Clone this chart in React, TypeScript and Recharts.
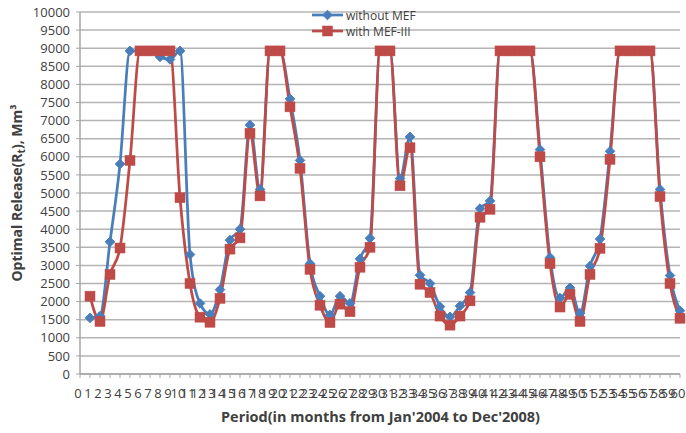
import React from 'react';
import { LineChart, Line, XAxis, YAxis, CartesianGrid } from 'recharts';

const periods = [
  1, 2, 3, 4, 5, 6, 7, 8, 9, 10, 11, 12, 13, 14, 15, 16, 17, 18, 19, 20,
  21, 22, 23, 24, 25, 26, 27, 28, 29, 30, 31, 32, 33, 34, 35, 36, 37, 38, 39, 40,
  41, 42, 43, 44, 45, 46, 47, 48, 49, 50, 51, 52, 53, 54, 55, 56, 57, 58, 59, 60,
];

const withoutMEF = [
  1550, 1600, 3650, 5800, 8925, 8925, 8925, 8760, 8690, 8925,
  3300, 1950, 1650, 2330, 3700, 4000, 6880, 5100, 8925, 8925,
  7600, 5900, 3050, 2150, 1630, 2150, 1950, 3180, 3750, 8925,
  8925, 5400, 6550, 2730, 2500, 1860, 1580, 1880, 2250, 4570,
  4780, 8925, 8925, 8925, 8925, 6200, 3220, 2100, 2380, 1680,
  2980, 3730, 6150, 8925, 8925, 8925, 8925, 5100, 2720, 1750,
];

const withMEF3 = [
  2150, 1450, 2750, 3480, 5900, 8925, 8925, 8925, 8925, 4870,
  2500, 1570, 1430, 2090, 3450, 3760, 6650, 4920, 8925, 8925,
  7380, 5680, 2890, 1900, 1420, 1930, 1720, 2950, 3500, 8925,
  8925, 5200, 6250, 2480, 2250, 1600, 1350, 1600, 2020, 4330,
  4550, 8925, 8925, 8925, 8925, 6000, 3050, 1850, 2200, 1450,
  2750, 3470, 5930, 8925, 8925, 8925, 8925, 4900, 2500, 1540,
];

const xTicks = [
  0, 1, 2, 3, 4, 5, 6, 7, 8, 9, 10, 11, 12, 13, 14, 15, 16, 17, 18, 19, 20,
  21, 22, 23, 24, 25, 26, 27, 28, 29, 30, 31, 32, 33, 34, 35, 36, 37, 38, 39, 40,
  41, 42, 43, 44, 45, 46, 47, 48, 49, 50, 51, 52, 53, 54, 55, 56, 57, 58, 59, 60,
];

const yTicks = [
  0, 500, 1000, 1500, 2000, 2500, 3000, 3500, 4000, 4500, 5000,
  5500, 6000, 6500, 7000, 7500, 8000, 8500, 9000, 9500, 10000,
];

const seriesNames = ['without MEF', 'with MEF-III'];
const xTitle = "Period(in months from Jan'2004 to Dec'2008)";

const BLUE = '#4A7EBB';
const RED = '#BE4B48';
const FONT = '"Open Sans", "Liberation Sans", sans-serif';

const data = periods.map((p, i) => ({ period: p, without: withoutMEF[i], withMef: withMEF3[i] }));

const diamond = (cx: number, cy: number, r: number, color: string) => (
  <polygon
    points={`${cx},${cy - r} ${cx + r},${cy} ${cx},${cy + r} ${cx - r},${cy}`}
    fill={color}
    stroke={color}
    strokeWidth={1}
  />
);

const square = (cx: number, cy: number, s: number, color: string) => (
  <rect x={cx - s / 2} y={cy - s / 2} width={s} height={s} fill={color} stroke={color} strokeWidth={0.5} />
);

const DiamondDot = (props: any) => {
  const { cx, cy, index } = props;
  if (cx == null || cy == null) return <g key={`d-${index}`} />;
  return <g key={`d-${index}`}>{diamond(cx, cy, 4.8, BLUE)}</g>;
};

const SquareDot = (props: any) => {
  const { cx, cy, index } = props;
  if (cx == null || cy == null) return <g key={`s-${index}`} />;
  return <g key={`s-${index}`}>{square(cx, cy, 10, RED)}</g>;
};

export default function App() {
  return (
    <div style={{ position: 'absolute', left: 0, top: 0, width: 686, height: 433, background: '#fff' }}>
      <LineChart
        width={686}
        height={433}
        data={data}
        margin={{ top: 12, right: 6, left: 0, bottom: 0 }}
      >
        <CartesianGrid vertical={false} stroke="#b4b4b4" strokeWidth={1.5} />
        <XAxis
          dataKey="period"
          type="number"
          domain={[0, 60]}
          ticks={xTicks}
          interval={0}
          height={59}
          tickSize={4}
          tickMargin={11}
          axisLine={{ stroke: '#a6a6a6', strokeWidth: 1.5 }}
          tickLine={{ stroke: '#a6a6a6', strokeWidth: 1 }}
          tick={{ fontSize: 13, fill: '#404040', fontFamily: FONT, dx: -2 }}
        />
        <YAxis
          type="number"
          domain={[0, 10000]}
          ticks={yTicks}
          interval={0}
          width={80}
          tickSize={4}
          tickMargin={6}
          axisLine={{ stroke: '#a6a6a6', strokeWidth: 1.5 }}
          tickLine={{ stroke: '#a6a6a6', strokeWidth: 1 }}
          tick={{ fontSize: 13, fill: '#404040', fontFamily: FONT }}
        />
        <Line
          type="monotone"
          dataKey="without"
          name={seriesNames[0]}
          stroke={BLUE}
          strokeWidth={2.75}
          dot={DiamondDot}
          activeDot={false}
          isAnimationActive={false}
        />
        <Line
          type="monotone"
          dataKey="withMef"
          name={seriesNames[1]}
          stroke={RED}
          strokeWidth={2.75}
          dot={SquareDot}
          activeDot={false}
          isAnimationActive={false}
        />
      </LineChart>
      <svg
        width={686}
        height={433}
        style={{ position: 'absolute', left: 0, top: 0, pointerEvents: 'none' }}
      >
        <g>
          <line x1={312} y1={15} x2={343} y2={15} stroke={BLUE} strokeWidth={2.75} />
          {diamond(327.5, 15, 4.8, BLUE)}
          <text x={346} y={15} dominantBaseline="central" fontSize={12} fill="#404040" fontFamily={FONT}>
            {seriesNames[0]}
          </text>
          <line x1={312} y1={31} x2={343} y2={31} stroke={RED} strokeWidth={2.75} />
          {square(327.5, 31, 10, RED)}
          <text x={346} y={31} dominantBaseline="central" fontSize={12} fill="#404040" fontFamily={FONT}>
            {seriesNames[1]}
          </text>
        </g>
        <text
          x={380.5}
          y={422}
          textAnchor="middle"
          fontSize={14}
          fontWeight="bold"
          fill="#404040"
          fontFamily={FONT}
          textLength={319}
          lengthAdjust="spacingAndGlyphs"
        >
          {xTitle}
        </text>
        <text
          transform="translate(22,193) rotate(-90)"
          textAnchor="middle"
          fontSize={14}
          fontWeight="bold"
          fill="#404040"
          fontFamily={FONT}
        >
          Optimal Release(R<tspan fontSize={10} dy={3}>t</tspan><tspan dy={-3}>), Mm³</tspan>
        </text>
      </svg>
    </div>
  );
}
